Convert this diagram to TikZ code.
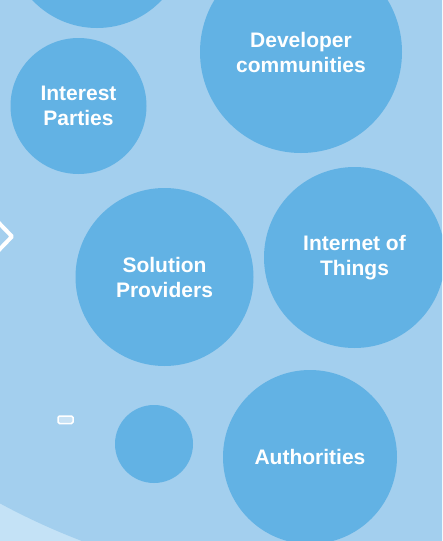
\documentclass[tikz,border=0pt]{standalone}
\usepackage{fontspec}
\setmainfont{Liberation Sans}
\definecolor{bgblue}{HTML}{A3CFEE}
\definecolor{bubbleblue}{HTML}{62B2E4}
\definecolor{lightblue}{HTML}{C4E2F6}
\begin{document}
\begin{tikzpicture}[x=1pt,y=-1pt,
  bubble/.style={circle,fill=bubbleblue,inner sep=0pt,text=white,align=center,
    font=\fontsize{21}{25}\selectfont\bfseries},
  ]
\useasboundingbox (0,0) rectangle (442,541);
\begin{scope}
\clip (0,0) rectangle (442,541);
\fill[lightblue] (0,0) rectangle (442,541);
\fill[bgblue] (332,-113) circle (700);
\node[bubble,minimum size=178] (top) at (97,-61) {};
\node[bubble,minimum size=136] (interest) at (78.5,106) {Interest\\Parties};
\node[bubble,minimum size=202] (dev) at (301,52) {Developer\\communities};
\node[bubble,minimum size=178] (sol) at (164.5,277) {Solution\\Providers};
\node[bubble,minimum size=181] (iot) at (354.5,257.5) {Internet of\\Things};
\node[bubble,minimum size=78] (small) at (154,444) {};
\node[bubble,minimum size=174] (auth) at (310,457) {Authorities};
\draw[white,line width=4,line join=round] (-2,222) -- (12,236.5) -- (-2,251);
\draw[white,line width=1.5,rounded corners=1.5,fill=bgblue!60!white] (58,416) rectangle (73,423.5);
\end{scope}
\end{tikzpicture}
\end{document}
